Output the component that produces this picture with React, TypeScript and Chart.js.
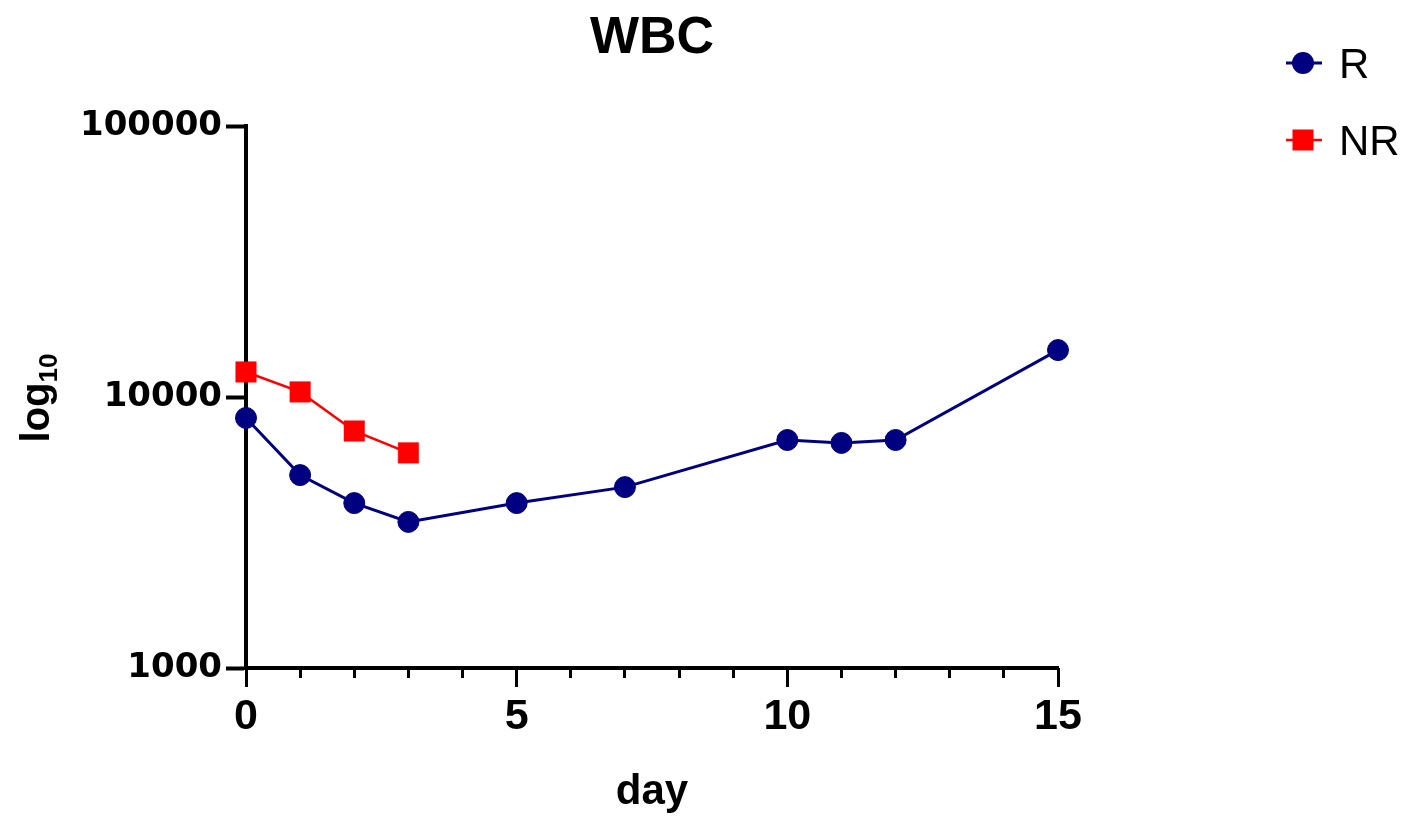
import React, { useEffect, useRef } from "react";
import { Chart, registerables } from "chart.js";

Chart.register(...registerables);

// ---- data ----
const daysR = [0, 1, 2, 3, 5, 7, 10, 11, 12, 15];
const wbcR = [8370, 5150, 4060, 3460, 4060, 4650, 6940, 6770, 6940, 14900];
const daysNR = [0, 1, 2, 3];
const wbcNR = [12370, 10440, 7490, 6220];
const yTickValues = [1000, 10000, 100000];
const xMajorTicks = [0, 5, 10, 15];
const xMinorTicks = [0, 1, 2, 3, 4, 5, 6, 7, 8, 9, 10, 11, 12, 13, 14, 15];
const seriesNames = ["R", "NR"];
const chartTitle = "WBC";
const xTitle = "day";

const NAVY = "#000080";
const RED = "#FF0000";
const ARIAL = "'Liberation Sans', Arial, sans-serif";

const overlayPlugin = {
  id: "overlay",
  afterDraw(chart: any) {
    const ctx = chart.ctx as CanvasRenderingContext2D;
    const area = chart.chartArea;
    ctx.save();
    // title
    ctx.fillStyle = "#000";
    ctx.textAlign = "center";
    ctx.textBaseline = "alphabetic";
    ctx.font = `bold 52px ${ARIAL}`;
    ctx.fillText(chartTitle, (area.left + area.right) / 2, 53);

    // y-axis title: log with subscript 10
    ctx.save();
    ctx.translate(49, 398);
    ctx.rotate(-Math.PI / 2);
    ctx.font = `bold 40px ${ARIAL}`;
    const wLog = ctx.measureText("log").width;
    ctx.font = `bold 26px ${ARIAL}`;
    const wSub = ctx.measureText("10").width;
    const start = -(wLog + wSub) / 2;
    ctx.textAlign = "left";
    ctx.font = `bold 40px ${ARIAL}`;
    ctx.fillText("log", start, 0);
    ctx.font = `bold 26px ${ARIAL}`;
    ctx.fillText("10", start + wLog, 8);
    ctx.restore();

    // legend
    const items = chart.data.datasets.map((ds: any, i: number) => ({
      label: seriesNames[i],
      color: ds.borderColor,
      style: ds.pointStyle,
      lw: ds.borderWidth,
      y: i === 0 ? 63 : 140,
    }));
    items.forEach((it: any) => {
      ctx.strokeStyle = it.color;
      ctx.lineWidth = it.lw;
      ctx.beginPath();
      ctx.moveTo(1286, it.y);
      ctx.lineTo(1322, it.y);
      ctx.stroke();
      ctx.fillStyle = it.color;
      if (it.style === "rect") {
        ctx.fillRect(1303 - 10.5, it.y - 10.5, 21, 21);
      } else {
        ctx.beginPath();
        ctx.arc(1303, it.y, 11, 0, Math.PI * 2);
        ctx.fill();
      }
      ctx.fillStyle = "#000";
      ctx.font = `42px ${ARIAL}`;
      ctx.textAlign = "left";
      ctx.fillText(it.label, 1339, it.y + 15);
    });
    ctx.restore();
  },
};

export default function App() {
  const ref = useRef<HTMLCanvasElement | null>(null);

  useEffect(() => {
    if (!ref.current) return;
    const chart = new Chart(ref.current, {
      type: "line",
      data: {
        datasets: [
          {
            label: seriesNames[0],
            data: daysR.map((d, i) => ({ x: d, y: wbcR[i] })),
            borderColor: NAVY,
            backgroundColor: NAVY,
            borderWidth: 3,
            pointStyle: "circle",
            pointRadius: 10.5,
            pointBorderWidth: 1,
            pointBackgroundColor: NAVY,
            pointBorderColor: NAVY,
            clip: false,
            tension: 0,
          },
          {
            label: seriesNames[1],
            data: daysNR.map((d, i) => ({ x: d, y: wbcNR[i] })),
            borderColor: RED,
            backgroundColor: RED,
            borderWidth: 2.5,
            pointStyle: "rect",
            pointRadius: 14.5,
            pointBorderWidth: 0.5,
            pointBackgroundColor: RED,
            pointBorderColor: RED,
            clip: false,
            tension: 0,
          },
        ],
      },
      options: {
        responsive: false,
        animation: false,
        events: [],
        layout: { padding: { left: 0, top: 126, right: 356, bottom: 0 } },
        plugins: {
          legend: { display: false },
          title: { display: false },
          tooltip: { enabled: false },
        },
        scales: {
          xMinor: {
            type: "linear",
            position: "bottom",
            min: 0,
            max: 15,
            afterBuildTicks: (s: any) => {
              s.ticks = xMinorTicks.map((v) => ({ value: v }));
            },
            afterFit: (s: any) => {
              s.height = 0;
            },
            ticks: { display: false },
            grid: {
              drawOnChartArea: false,
              drawTicks: true,
              tickLength: 10,
              tickWidth: 3,
              tickColor: "#000",
              color: "#000",
            },
            border: { display: false },
          },
          x: {
            type: "linear",
            position: "bottom",
            min: 0,
            max: 15,
            afterBuildTicks: (s: any) => {
              s.ticks = xMajorTicks.map((v) => ({ value: v }));
            },
            afterFit: (s: any) => {
              s.height = 154;
            },
            ticks: {
              color: "#000",
              padding: 4,
              maxRotation: 0,
              autoSkip: false,
              font: { family: ARIAL, size: 43, weight: "bold", lineHeight: 1.2 },
              callback: (v: any) => String(v),
            },
            grid: {
              drawOnChartArea: false,
              drawTicks: true,
              tickLength: 19,
              tickWidth: 3,
              tickColor: "#000",
              color: "#000",
            },
            border: { display: true, color: "#000", width: 4 },
            title: {
              display: true,
              text: xTitle,
              color: "#000",
              font: { family: ARIAL, size: 42, weight: "bold", lineHeight: 1 },
              padding: { top: 0, bottom: 9 },
            },
          },
          y: {
            type: "logarithmic",
            position: "left",
            min: 1000,
            max: 100000,
            afterBuildTicks: (s: any) => {
              s.ticks = yTickValues.map((v) => ({ value: v, major: true }));
            },
            afterFit: (s: any) => {
              s.width = 246;
            },
            ticks: {
              color: "#000",
              padding: 4,
              autoSkip: false,
              font: { family: "'DejaVu Sans', sans-serif", size: 34, weight: "bold" },
              callback: (v: any) => String(v),
            },
            grid: {
              drawOnChartArea: false,
              drawTicks: true,
              tickLength: 20,
              tickWidth: 4,
              tickColor: "#000",
              color: "#000",
            },
            border: { display: true, color: "#000", width: 4 },
          },
        },
      },
      plugins: [overlayPlugin],
    } as any);
    return () => chart.destroy();
  }, []);

  return (
    <div style={{ position: "absolute", left: 0, top: 0, width: 1414, height: 822, background: "#fff" }}>
      <canvas ref={ref} width={1414} height={822} style={{ display: "block", width: 1414, height: 822 }} />
    </div>
  );
}
